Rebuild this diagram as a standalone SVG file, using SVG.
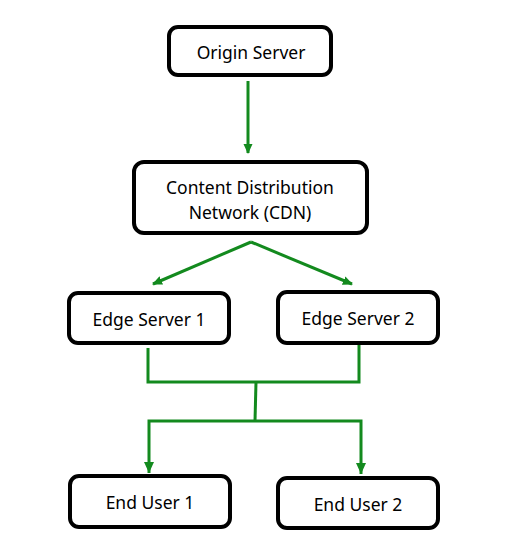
<svg xmlns="http://www.w3.org/2000/svg" width="521" height="558" viewBox="0 0 521 558">
<defs>
<style>
.box{fill:#fff;stroke:#000;stroke-width:4}
.t{font-family:"Noto Sans",sans-serif;font-size:17.5px;fill:#000;text-anchor:middle;dominant-baseline:central}
.c{fill:none;stroke:#138a1e;stroke-width:3}
</style>
<marker id="ah" markerWidth="10" markerHeight="10" refX="9" refY="5" orient="auto" markerUnits="userSpaceOnUse">
<path d="M0,0.5 L10,5 L0,9.5 Z" fill="#138a1e"/>
</marker>
</defs>
<rect width="521" height="558" fill="#fff"/>
<g id="connectors">
<line class="c" x1="248" y1="81" x2="248" y2="153" marker-end="url(#ah)"/>
<line class="c" x1="251" y1="242" x2="153" y2="284" marker-end="url(#ah)"/>
<line class="c" x1="251" y1="242" x2="352" y2="284" marker-end="url(#ah)"/>
<polyline class="c" points="148,348 148,382 359,382 359,345"/>
<line class="c" x1="256" y1="382" x2="255" y2="421"/>
<polyline class="c" points="149,473 149,421 361,421 361,474" />
<path d="M144,462 L149,473 L154,462 Z" fill="#138a1e"/>
<path d="M356,463 L361,474 L366,463 Z" fill="#138a1e"/>
</g>
<g id="origin">
<rect class="box" x="169" y="27" width="162" height="48" rx="9"/>
<text class="t" x="251" y="52">Origin Server</text>
</g>
<g id="cdn">
<rect class="box" x="134" y="162" width="233" height="71" rx="10"/>
<text class="t" x="250" y="187">Content Distribution</text>
<text class="t" x="250" y="212">Network (CDN)</text>
</g>
<g id="edge1">
<rect class="box" x="69" y="293" width="160" height="50" rx="9"/>
<text class="t" x="149" y="319">Edge Server 1</text>
</g>
<g id="edge2">
<rect class="box" x="278" y="292" width="160" height="51" rx="9"/>
<text class="t" x="358" y="318">Edge Server 2</text>
</g>
<g id="user1">
<rect class="box" x="70" y="476" width="160" height="51" rx="9"/>
<text class="t" x="150" y="502">End User 1</text>
</g>
<g id="user2">
<rect class="box" x="278" y="478" width="160" height="50" rx="9"/>
<text class="t" x="358" y="504">End User 2</text>
</g>
</svg>
